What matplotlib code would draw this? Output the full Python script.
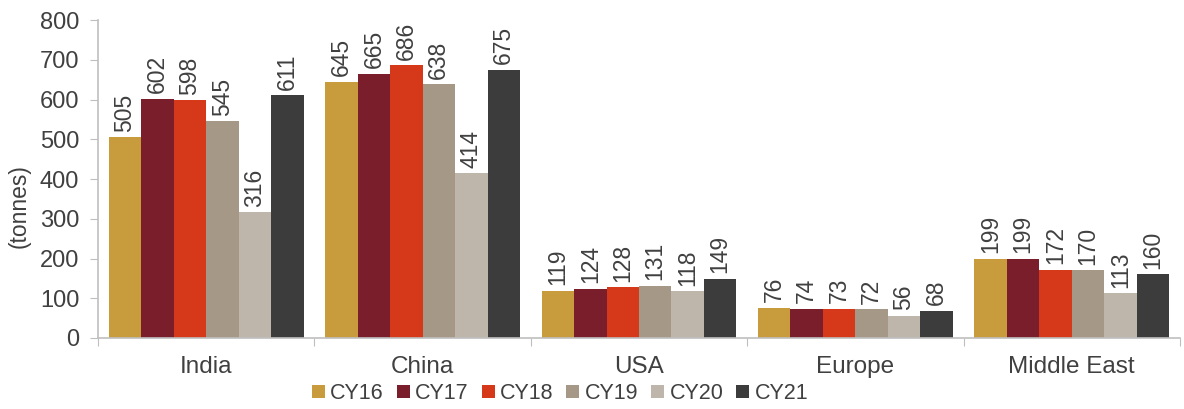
import numpy as np
import matplotlib.pyplot as plt

plt.rcParams['font.family'] = ['Liberation Sans', 'DejaVu Sans']

regions = ["India", "China", "USA", "Europe", "Middle East"]
years = ["CY16", "CY17", "CY18", "CY19", "CY20", "CY21"]
cy16 = [505, 645, 119, 76, 199]
cy17 = [602, 665, 124, 74, 199]
cy18 = [598, 686, 128, 73, 172]
cy19 = [545, 638, 131, 72, 170]
cy20 = [316, 414, 118, 56, 113]
cy21 = [611, 675, 149, 68, 160]
series = [cy16, cy17, cy18, cy19, cy20, cy21]
colors = ["#C89B3C", "#7B1E2B", "#D5391A", "#A69887", "#BFB6AB", "#3C3C3C"]

txt = "#404040"
grey = "#BFBFBF"

fig = plt.figure(figsize=(11.84, 4.09), dpi=100)
ax = fig.add_axes([0.0828, 0.1736, 0.9138, 0.7774])

x = np.arange(len(regions))
n = len(series)
w = 0.9 / n
for i, (vals, c, lab) in enumerate(zip(series, colors, years)):
    pos = x - 0.45 + w * (i + 0.5)
    bars = ax.bar(pos, vals, width=w, color=c, label=lab, zorder=2)
    for b, v in zip(bars, vals):
        ax.annotate(str(v), (b.get_x() + b.get_width() / 2, v),
                    xytext=(0, 4), textcoords="offset points",
                    rotation=90, ha="center", va="bottom",
                    fontsize=16.5, color=txt)

ax.set_xlim(-0.5, len(regions) - 0.5)
ax.set_ylim(0, 800)
ax.set_yticks(range(0, 801, 100))
ax.set_ylabel("(tonnes)", fontsize=16.5, color=txt)
ax.yaxis.set_label_coords(-0.062, 0.415)

# category labels centred, tick marks on the group boundaries
ax.set_xticks(np.arange(-0.5, len(regions)), minor=False)
ax.set_xticklabels([])
ax.set_xticks(x, minor=True)
ax.set_xticklabels(regions, minor=True)
ax.tick_params(axis="x", which="major", length=6, color=grey, direction="out")
ax.tick_params(axis="x", which="minor", length=0, pad=13, labelsize=17.5, labelcolor=txt)
ax.tick_params(axis="y", length=6, color=grey, labelsize=17, labelcolor=txt, pad=7.5)

for s in ["top", "right"]:
    ax.spines[s].set_visible(False)
for s in ["left", "bottom"]:
    ax.spines[s].set_color(grey)
    ax.spines[s].set_linewidth(1.2)

fig.legend(*ax.get_legend_handles_labels(), loc="center",
           bbox_to_anchor=(0.473, 0.038), ncol=6,
           frameon=False, fontsize=15.5, labelcolor=txt,
           handlelength=0.6, handleheight=0.6, handletextpad=0.25,
           columnspacing=0.6, borderaxespad=0)

fig.savefig("out.png", dpi=100)
